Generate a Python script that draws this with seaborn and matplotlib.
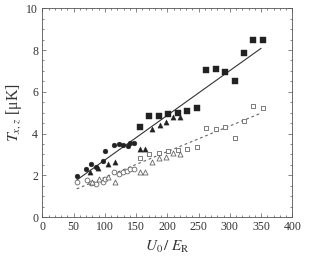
import numpy as np
import pandas as pd
import matplotlib
matplotlib.use("Agg")
import matplotlib.pyplot as plt
from matplotlib.ticker import MultipleLocator
import seaborn as sns

# ---- data ----
fc_x = [55, 70, 77.5, 86.5, 96.5, 101, 114.5, 122, 129.5, 136.5, 141, 146]
fc_y = [1.98, 2.30, 2.54, 2.38, 2.70, 3.18, 3.43, 3.52, 3.47, 3.42, 3.53, 3.57]

ft_x = [77, 89.5, 105.5, 117, 156, 164, 175.5, 188, 198, 209.5, 220.5]
ft_y = [2.14, 2.36, 2.52, 2.64, 3.26, 3.24, 4.22, 4.41, 4.56, 4.81, 4.81]

fs_x = [155.5, 171, 186.5, 201.5, 216.5, 232, 247, 262, 277.5, 293, 307.5, 322.5, 337.5, 353]
fs_y = [4.33, 4.86, 4.86, 4.94, 4.98, 5.07, 5.21, 7.03, 7.08, 6.93, 6.50, 7.84, 8.46, 8.48]

oc_x = [55, 71, 77.5, 86, 97, 101, 114.5, 122, 129.5, 136, 141, 146]
oc_y = [1.70, 1.77, 1.64, 1.60, 1.70, 1.82, 2.18, 2.07, 2.14, 2.22, 2.30, 2.32]

ot_x = [79, 90, 105.5, 117, 156, 164, 175.5, 187, 198, 209.5, 220.5]
ot_y = [1.68, 1.80, 1.90, 1.70, 2.16, 2.17, 2.62, 2.84, 2.89, 3.08, 3.00]

os_x = [155.5, 171, 186.5, 201.5, 216.5, 232, 247, 262, 277.5, 293, 307.5, 322.5, 337.5, 353]
os_y = [2.84, 3.00, 3.07, 3.18, 3.22, 3.26, 3.37, 4.27, 4.20, 4.30, 3.80, 4.58, 5.30, 5.22]

fit_range = [55, 350]
fit_solid = [1.77, 0.0214]   # value at x=55, slope
fit_dashed = [1.35, 0.0123]

x_ticks = [0, 50, 100, 150, 200, 250, 300, 350, 400]
y_ticks = [0, 2, 4, 6, 8, 10]

# ---- figure ----
sns.set_theme(style="ticks")
plt.rcParams["font.family"] = ["Liberation Serif", "DejaVu Serif"]
plt.rcParams["mathtext.fontset"] = "stix"

fig = plt.figure(figsize=(3.09, 2.59), dpi=100)
ax = fig.add_axes([0.137, 0.162, 0.809, 0.806])

fx = np.array(fit_range, dtype=float)
solid_df = pd.DataFrame({"x": fx, "y": fit_solid[0] + fit_solid[1] * (fx - fit_range[0])})
dash_df = pd.DataFrame({"x": fx, "y": fit_dashed[0] + fit_dashed[1] * (fx - fit_range[0])})
sns.lineplot(data=solid_df, x="x", y="y", ax=ax, color="#333333", lw=0.8, zorder=1)
sns.lineplot(data=dash_df, x="x", y="y", ax=ax, color="#666666", lw=0.8,
             linestyle=(0, (2.5, 2.5)), zorder=1)

dark = "#222222"
opencol = "#666666"
sns.scatterplot(x=fs_x, y=fs_y, ax=ax, marker="s", s=15, color=dark, edgecolor=dark, linewidth=0.3, zorder=3)
sns.scatterplot(x=fc_x, y=fc_y, ax=ax, marker="o", s=12, color=dark, edgecolor=dark, linewidth=0.3, zorder=3)
sns.scatterplot(x=ft_x, y=ft_y, ax=ax, marker="^", s=14, color=dark, edgecolor=dark, linewidth=0.3, zorder=3)
sns.scatterplot(x=os_x, y=os_y, ax=ax, marker="s", s=12, facecolor="white", edgecolor=opencol, linewidth=0.6, zorder=3)
sns.scatterplot(x=oc_x, y=oc_y, ax=ax, marker="o", s=12, facecolor="white", edgecolor=opencol, linewidth=0.6, zorder=3)
sns.scatterplot(x=ot_x, y=ot_y, ax=ax, marker="^", s=13, facecolor="white", edgecolor=opencol, linewidth=0.6, zorder=3)

ax.set_xlim(0, 400)
ax.set_ylim(0, 10)
ax.set_xticks(x_ticks)
ax.set_yticks(y_ticks)
ax.xaxis.set_minor_locator(MultipleLocator(10))
ax.yaxis.set_minor_locator(MultipleLocator(0.5))
ax.tick_params(which="both", direction="in", top=True, right=True, colors="#555555",
               labelcolor="#333333", labelsize=8.5, width=0.5)
ax.tick_params(which="major", length=3, pad=3)
ax.tick_params(which="minor", length=1.5)
for sp in ax.spines.values():
    sp.set_color("#555555")
    sp.set_linewidth(0.6)

ax.set_xlabel(r"$U_0\,/\;E_{\mathrm{R}}$", fontsize=11, color="#333333", labelpad=4)
ax.set_ylabel(r"$T_{x,z}$ [μK]", fontsize=11.5, color="#333333", labelpad=2)

fig.savefig("out.png", dpi=100)
